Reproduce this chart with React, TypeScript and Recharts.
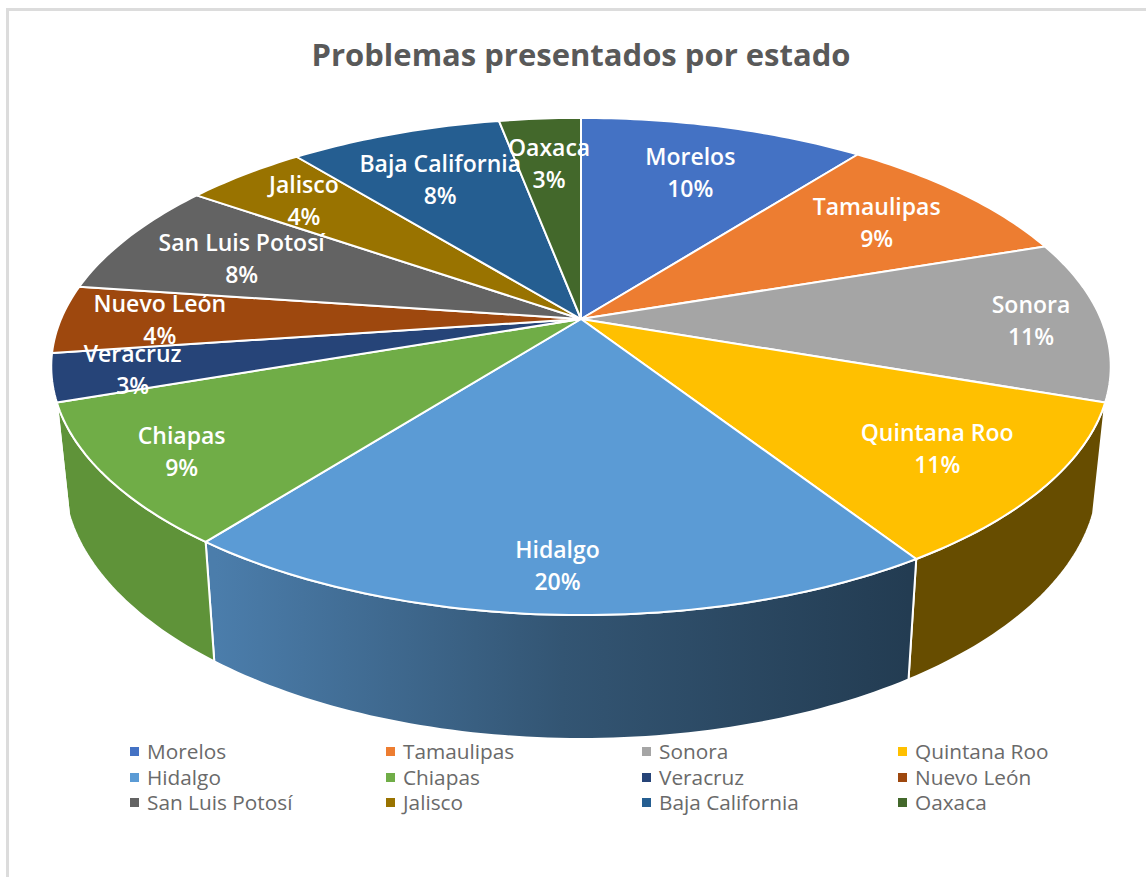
import React from "react";
import { PieChart, Pie, Legend } from "recharts";

const TITLE = "Problemas presentados por estado";
const states = ["Morelos","Tamaulipas","Sonora","Quintana Roo","Hidalgo","Chiapas","Veracruz","Nuevo León","San Luis Potosí","Jalisco","Baja California","Oaxaca"];
const shares = [10.49,9.3,10.51,10.6,19.6,9.2,3.1,4.4,7.5,4.49,7.81,3.0];
const colors = ["#4472C4","#ED7D31","#A5A5A5","#FFC000","#5B9BD5","#70AD47","#264478","#9E480E","#636363","#997300","#255E91","#43682B"];
const wallColors = ["#2D4C83","#9E5320","#6E6E6E","#674D00","url(#hidalgoWall)","#5F9339","#3A5A94","#693009","#424242","#664D00","#183E60","#2C451C"];
const labelRadii = [0.736,0.757,0.865,0.79,0.86,0.855,0.853,0.81,0.737,0.805,0.725,0.745];

const data = states.map((name, i) => ({ name, value: shares[i], fill: colors[i], wall: wallColors[i], labelRadius: labelRadii[i] }));

const W = 1146, H = 877, CX = 581, CY = 319, R = 520;
const TILT = 0.4606, PERSP = 0.191;
const FRONT_START = 106.8, FRONT_END = 252.8;
const FONT = "'Open Sans', sans-serif";

function project(deg: number, f = 1, radius = R, cx = CX, cy = CY) {
  const t = (deg * Math.PI) / 180;
  const u = f * Math.sin(t), v = f * Math.cos(t);
  const d = 1 + PERSP * v;
  return { x: cx + (radius * u) / d, y: cy - (radius * TILT * v) / d };
}
const lower = (p: { x: number; y: number }, cx: number) => ({ x: cx + 0.977 * (p.x - cx), y: 1.06 * p.y + 87 });

function rim(a: number, b: number, radius: number, cx: number, cy: number) {
  const n = Math.max(2, Math.ceil(Math.abs(b - a)));
  const out = [] as { x: number; y: number }[];
  for (let i = 0; i <= n; i++) out.push(project(a + ((b - a) * i) / n, 1, radius, cx, cy));
  return out;
}
const toPath = (pts: { x: number; y: number }[]) => pts.map((p, i) => `${i ? "L" : "M"}${p.x.toFixed(2)},${p.y.toFixed(2)}`).join("") + "Z";

function TopSector(props: any) {
  const { cx, cy, outerRadius, startAngle, endAngle, fill } = props;
  const pts = [{ x: cx, y: cy }, ...rim(90 - startAngle, 90 - endAngle, outerRadius, cx, cy)];
  return <path d={toPath(pts)} fill={fill} stroke="#ffffff" strokeWidth={2} strokeLinejoin="round" />;
}

function WallSector(props: any) {
  const { cx, cy, outerRadius, startAngle, endAngle, wall } = props;
  const a = Math.max(90 - startAngle, FRONT_START), b = Math.min(90 - endAngle, FRONT_END);
  if (b <= a) return <g />;
  const top = rim(a, b, outerRadius, cx, cy);
  const bottom = top.map((p) => lower(p, cx)).reverse();
  return <path d={toPath([...top, ...bottom])} fill={wall} stroke="#ffffff" strokeWidth={2} strokeLinejoin="round" />;
}

function SliceLabel(props: any) {
  const { midAngle, percent, name, labelRadius, cx, cy, outerRadius } = props;
  const payload = props.payload || {};
  const f = labelRadius ?? payload.labelRadius;
  const p = project(90 - midAngle, f, outerRadius, cx, cy);
  return (
    <text x={p.x} y={p.y} textAnchor="middle" fill="#ffffff" fontFamily={FONT} fontWeight={600} fontSize={23}>
      <tspan x={p.x} y={p.y - 7}>{name}</tspan>
      <tspan x={p.x} y={p.y + 25}>{`${Math.round(percent * 100)}%`}</tspan>
    </text>
  );
}

function LegendGrid({ payload }: any) {
  const seen = new Set<string>();
  const items = (payload || []).filter((item: any) => {
    if (seen.has(item.value)) return false;
    seen.add(item.value);
    return true;
  });
  return (
    <div style={{ display: "grid", gridTemplateColumns: "256px 256px 256px 256px", gridAutoRows: "25.5px", fontFamily: FONT, fontSize: 20.8, color: "#6A6A6A" }}>
      {items.map((item: any) => (
        <div key={item.value} style={{ display: "flex", alignItems: "center", whiteSpace: "nowrap", lineHeight: "25.5px" }}>
          <span style={{ display: "inline-block", width: 9, height: 9, background: item.color, marginRight: 8 }} />
          {item.value}
        </div>
      ))}
    </div>
  );
}

export default function App() {
  return (
    <div style={{ position: "absolute", left: 0, top: 0, width: W, height: H, overflow: "hidden", background: "#fff" }}>
      <div style={{ position: "absolute", left: 6, top: 8, width: 1140, height: 2.5, background: "#DCDCDC" }} />
      <div style={{ position: "absolute", left: 6, top: 8, width: 2.5, height: 869, background: "#DCDCDC" }} />
      <PieChart width={W} height={H} margin={{ top: 0, right: 0, bottom: 0, left: 0 }}>
        <defs>
          <linearGradient id="hidalgoWall" gradientUnits="userSpaceOnUse" x1={216} y1={0} x2={909} y2={0}>
            <stop offset="0" stopColor="#4B7DAB" />
            <stop offset="0.5" stopColor="#335573" />
            <stop offset="1" stopColor="#233C52" />
          </linearGradient>
        </defs>
        <text x={CX} y={66} textAnchor="middle" fill="#595959" fontFamily={FONT} fontWeight={700} fontSize={31}>{TITLE}</text>
        <Pie data={data} dataKey="value" nameKey="name" cx={CX} cy={CY} outerRadius={R} startAngle={90} endAngle={-270}
          isAnimationActive={false} legendType="none" shape={WallSector} />
        <Pie data={data} dataKey="value" nameKey="name" cx={CX} cy={CY} outerRadius={R} startAngle={90} endAngle={-270}
          isAnimationActive={false} legendType="square" shape={TopSector} label={SliceLabel} labelLine={false} />
        <Legend content={LegendGrid} itemSorter={null} wrapperStyle={{ left: 130, top: 739, width: 1024, bottom: "auto" }} />
      </PieChart>
    </div>
  );
}
